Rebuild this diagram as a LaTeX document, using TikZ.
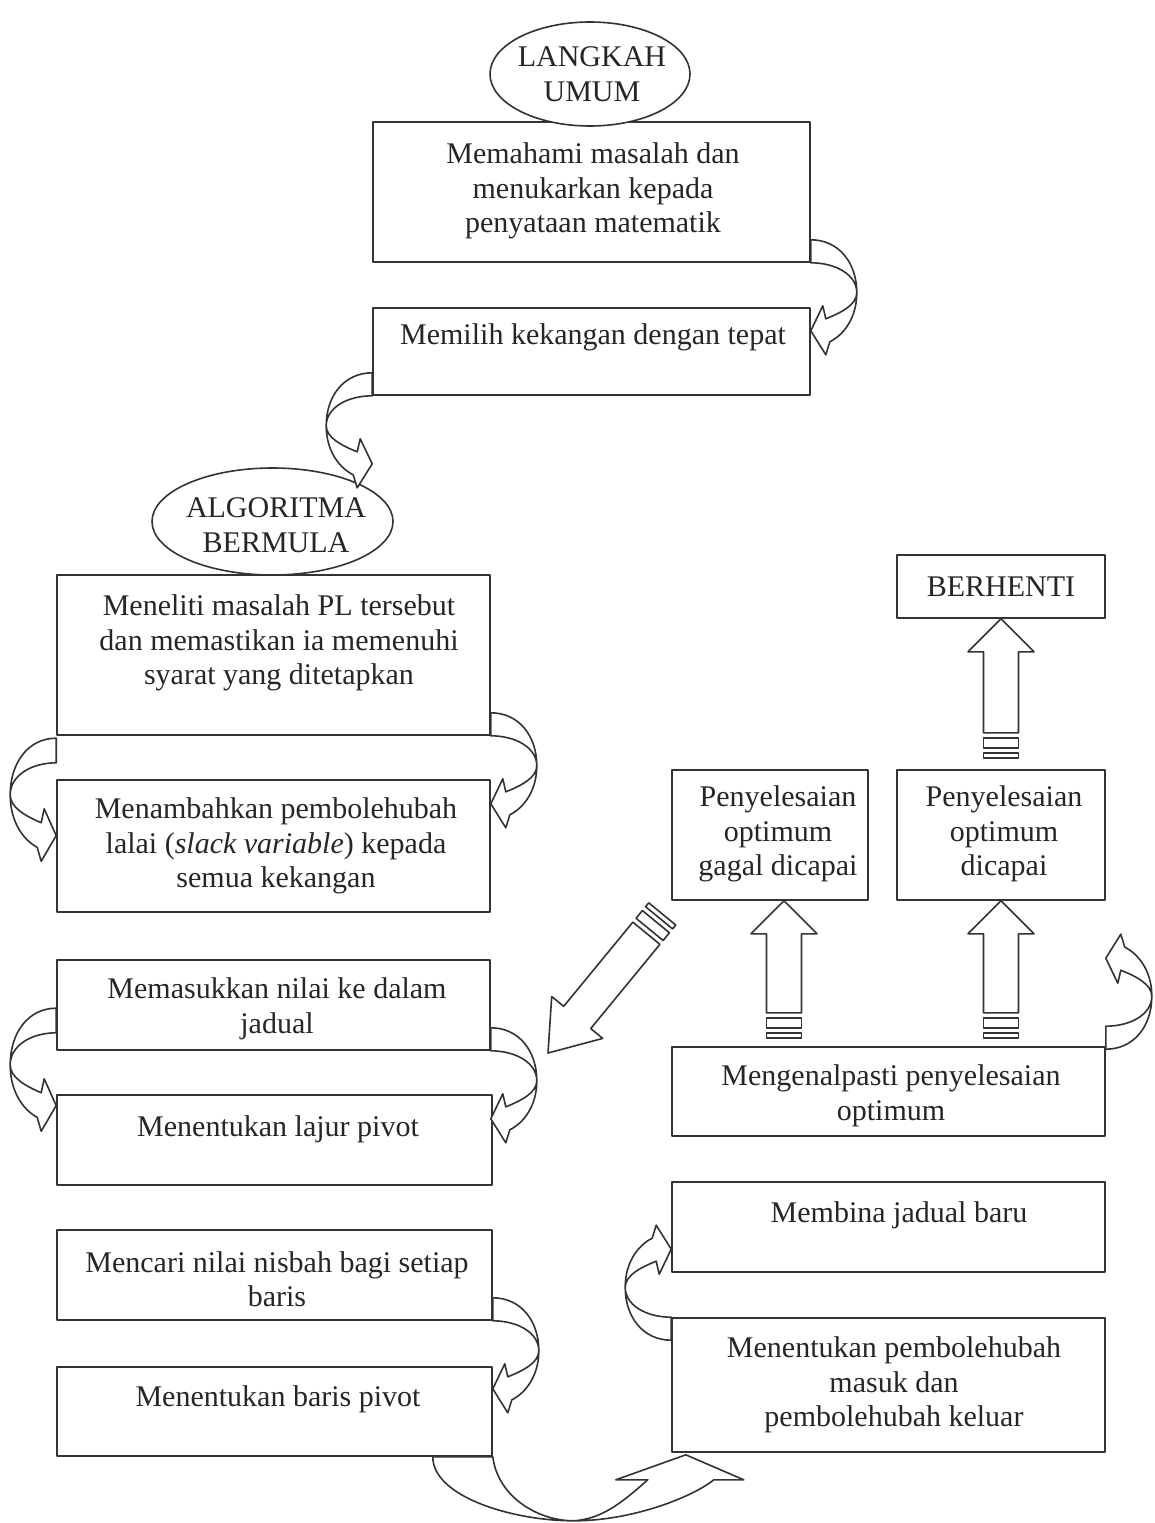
\documentclass[tikz,border=0pt]{standalone}
\usepackage{fontspec}
\setmainfont{Liberation Serif}
\usetikzlibrary{shapes.geometric,calc}
\newcommand\blockarr[4]{%
  \begin{scope}[shift={#1},rotate=#2]
    \draw[barrow] (0,0) -- (33,#3) -- (17.5,#3) -- (17.5,#4) -- (-17.5,#4) -- (-17.5,#3) -- (-33,#3) -- cycle;
    \draw[barrow] (-17.5,#4+5) rectangle (17.5,#4+15);
    \draw[barrow] (-17.5,#4+20) rectangle (17.5,#4+25);
  \end{scope}}
\newcommand\bendarr[2]{%
  \begin{scope}[shift={#1},#2]
    \draw[barrow] (0,-23) .. controls (28,-23) and (46,0) .. (46,30)
      .. controls (46,55) and (33,72) .. (19,79) -- (15,92) -- (0,68) -- (12,43) -- (15,56)
      .. controls (30,50) and (46,42) .. (46,30)
      .. controls (46,12) and (25,0) .. (0,0) -- cycle;
  \end{scope}}
\begin{document}
\begin{tikzpicture}[x=1pt,y=-1pt,line join=round,
  ln/.style={draw=black!80,line width=1.6pt},
  box/.style={ln,rectangle,inner sep=0pt,fill=white},
  oval/.style={ln,ellipse,inner sep=0pt,fill=white},
  txt/.style={align=center,inner sep=0pt,text=black!85,font=\fontsize{30}{34.5}\selectfont},
  barrow/.style={ln,fill=white}]
\fill[white] (0,0) rectangle (1155,1523);
\useasboundingbox (0,0) rectangle (1155,1523);

% boxes
\node[box,minimum width=437pt,minimum height=140pt] (b2) at (591.5,192) {};
\node[box,minimum width=437pt,minimum height=87pt] (b3) at (591.5,351.5) {};
\node[oval,minimum width=200pt,minimum height=104pt] (b1) at (590,74) {};
\node[box,minimum width=433pt,minimum height=160pt] (b5) at (273.5,655) {};
\node[oval,minimum width=241pt,minimum height=107pt] (b4) at (272.5,521.5) {};
\node[box,minimum width=433pt,minimum height=132pt] (b6) at (273.5,846) {};
\node[box,minimum width=433pt,minimum height=90pt] (b7) at (273.5,1005) {};
\node[box,minimum width=435pt,minimum height=90pt] (b8) at (274.5,1140) {};
\node[box,minimum width=435pt,minimum height=90pt] (b9) at (274.5,1275) {};
\node[box,minimum width=435pt,minimum height=89pt] (b10) at (274.5,1411.5) {};
\node[box,minimum width=208pt,minimum height=63pt] (b11) at (1001,586.5) {};
\node[box,minimum width=196pt,minimum height=130pt] (b12) at (770,835) {};
\node[box,minimum width=208pt,minimum height=130pt] (b13) at (1001,835) {};
\node[box,minimum width=433pt,minimum height=89pt] (b14) at (888.5,1091.5) {};
\node[box,minimum width=433pt,minimum height=90pt] (b15) at (888.5,1227) {};
\node[box,minimum width=433pt,minimum height=134pt] (b16) at (888.5,1385) {};

% texts
\node[txt] (t1) at (592,74) {LANGKAH\\UMUM};
\node[txt] (t2) at (593,191) {Memahami masalah dan\\menukarkan kepada\\penyataan matematik};
\node[txt] (t3) at (593,337) {Memilih kekangan dengan tepat};
\node[txt] (t4) at (276,525) {ALGORITMA\\BERMULA};
\node[txt] (t5) at (279,643) {Meneliti masalah PL tersebut\\dan memastikan ia memenuhi\\syarat yang ditetapkan};
\node[txt] (t6) at (276,846) {Menambahkan pembolehubah\\lalai (\textit{slack variable}) kepada\\semua kekangan};
\node[txt] (t7) at (277,1009) {Memasukkan nilai ke dalam\\jadual};
\node[txt] (t8) at (278,1129) {Menentukan lajur pivot};
\node[txt] (t9) at (277,1279) {Mencari nilai nisbah bagi setiap\\baris};
\node[txt] (t10) at (278,1399) {Menentukan baris pivot};
\node[txt] (t11) at (1001,587) {BERHENTI};
\node[txt] (t12) at (778,834) {Penyelesaian\\optimum\\gagal dicapai};
\node[txt] (t13) at (1004,834) {Penyelesaian\\optimum\\dicapai};
\node[txt] (t14) at (891,1096) {Mengenalpasti penyelesaian\\optimum};
\node[txt] (t15) at (899,1215) {Membina jadual baru};
\node[txt] (t16) at (894,1385) {Menentukan pembolehubah\\masuk dan\\pembolehubah keluar};

% curved arrows
\bendarr{(b2.south east)}{}
\bendarr{(b3.south west)}{xscale=-1}
\bendarr{(b5.south east)}{}
\bendarr{($(b5.south west)+(0,27)$)}{xscale=-1,yscale=1.07}
\bendarr{(b7.south east)}{}
\bendarr{($(b7.south west)+(0,-18)$)}{xscale=-1,yscale=1.07}
\bendarr{(b9.south east)}{}
\bendarr{(b16.north west)}{xscale=-1,yscale=-1}
\bendarr{($(b14.north east)+(0,-20)$)}{yscale=-1}

% U arrow at the bottom
\begin{scope}[shift={(b10.south east)}]
  \draw[barrow] (-60,0) .. controls (-60,40) and (20,64) .. (81,64)
    .. controls (140,64) and (200,40) .. (221,23) -- (251,23) -- (193,-2) -- (123,23) -- (155,23)
    .. controls (130,45) and (110,62) .. (81,64)
    .. controls (45,64) and (5,40) .. (0,0) -- cycle;
\end{scope}

% block arrows
\blockarr{($(b12.south)+(14,0)$)}{0}{33}{112}
\blockarr{(b13.south)}{0}{33}{112}
\blockarr{(b11.south)}{0}{33}{114}
\coordinate (dtip) at (548,1053);
\blockarr{(dtip)}{140.6}{46}{155}
\end{tikzpicture}
\end{document}
